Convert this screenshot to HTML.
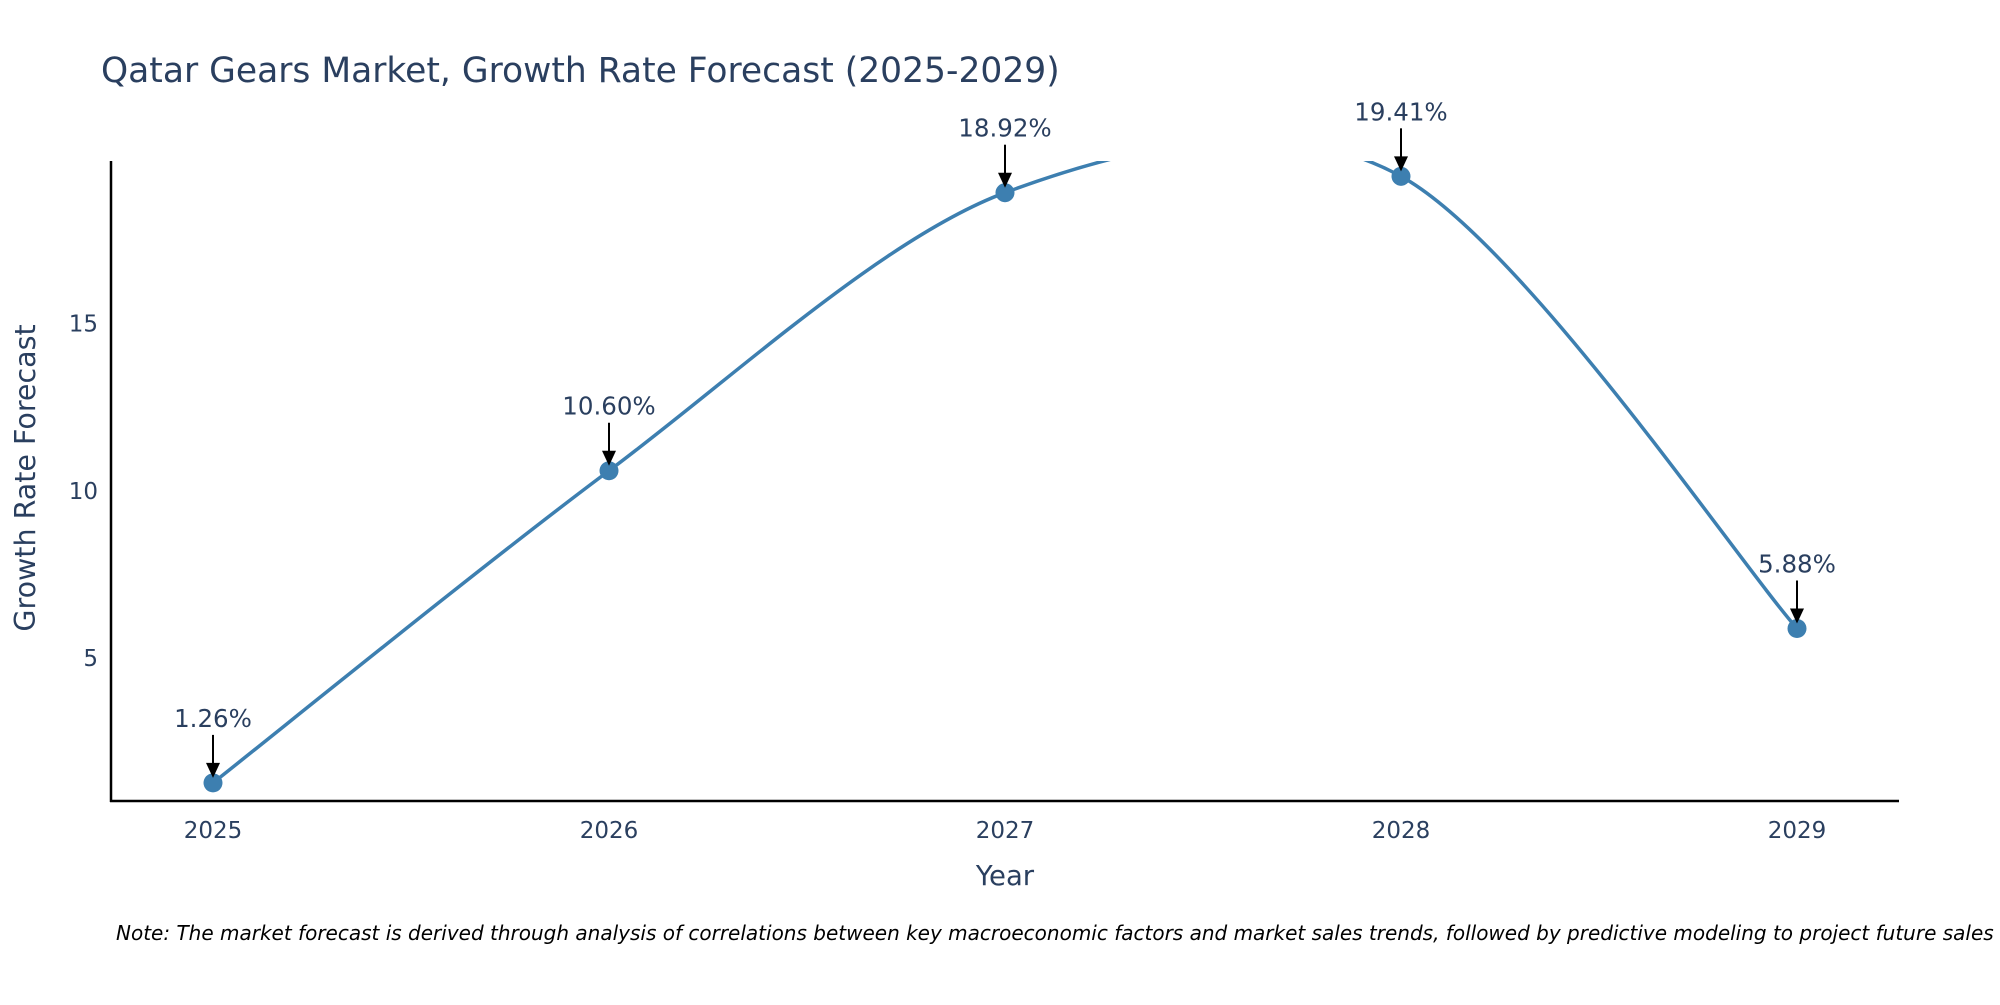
<!DOCTYPE html>
<html><head><meta charset="utf-8"><style>
body{margin:0;background:#fff;font-family:"Liberation Sans","DejaVu Sans",sans-serif}
svg text{font-family:"DejaVu Sans","Liberation Sans",sans-serif;fill:#2a3f5f}
</style></head><body>
<svg id="chart" width="2000" height="1000" xmlns="http://www.w3.org/2000/svg">
<defs>
<clipPath id="plotclip"><rect x="111" y="161" width="1788" height="640"/></clipPath>
</defs>
<text x="101" y="82" font-size="34.5">Qatar Gears Market, Growth Rate Forecast (2025-2029)</text>
<g id="yticks"></g><g id="xticks"></g>
<g id="series" clip-path="url(#plotclip)"></g>
<g id="points"></g><g id="annots"></g>
<line x1="111" y1="161" x2="111" y2="802" stroke="#000" stroke-width="2.5"/>
<line x1="110" y1="801" x2="1899" y2="801" stroke="#000" stroke-width="2.5"/>
<text x="1005" y="885" font-size="27.5" text-anchor="middle">Year</text>
<text transform="translate(35,478) rotate(-90)" font-size="28.5" text-anchor="middle">Growth Rate Forecast</text>
<text x="116" y="940" font-size="20" font-style="italic" style="fill:#000">Note: The market forecast is derived through analysis of correlations between key macroeconomic factors and market sales trends, followed by predictive modeling to project future sales</text>
</svg>
<script>
const years = ["2025","2026","2027","2028","2029"];
const growth = [1.26, 10.60, 18.92, 19.41, 5.88];
const labels = ["1.26%","10.60%","18.92%","19.41%","5.88%"];
const yTickValues = [5, 10, 15];

const NS = "http://www.w3.org/2000/svg";
const X0 = 213, X1 = 1797;
const xs = i => X0 + i * (X1 - X0) / (years.length - 1);
const ys = v => 825 - v * 33.42;
function mk(tag, attrs, parent){const e=document.createElementNS(NS,tag);for(const k in attrs)e.setAttribute(k,attrs[k]);parent.appendChild(e);return e;}

const yt = document.getElementById('yticks');
yTickValues.forEach(v=>{
  const t = mk('text',{x:98,y:ys(v)+8,'font-size':23,'text-anchor':'end'},yt);
  
  
  t.textContent = v;
});
const xt = document.getElementById('xticks');
years.forEach((y,i)=>{
  const t = mk('text',{x:xs(i),y:838,'font-size':23,'text-anchor':'middle'},xt);
  
  
  t.textContent = y;
});

const P = growth.map((v,i)=>[xs(i), ys(v)]);
let d = `M${P[0][0]},${P[0][1]}`;
for (let i=0;i<P.length-1;i++){
  const p0=P[Math.max(i-1,0)], p1=P[i], p2=P[i+1], p3=P[Math.min(i+2,P.length-1)];
  const k=1/6.5;
  const c1=[p1[0]+(p2[0]-p0[0])*k, p1[1]+(p2[1]-p0[1])*k];
  const c2=[p2[0]-(p3[0]-p1[0])*k, p2[1]-(p3[1]-p1[1])*k];
  d += ` C${c1[0]},${c1[1]} ${c2[0]},${c2[1]} ${p2[0]},${p2[1]}`;
}
const line = mk('path',{d:d,fill:'none',stroke:'#3d7fb0','stroke-width':3.5},document.getElementById('series'));



const pts = document.getElementById('points'), an = document.getElementById('annots');
growth.forEach((v,i)=>{
  const x = xs(i), y = ys(v);
  const c = mk('circle',{cx:x,cy:y,r:9.5,fill:'#3d7fb0'},pts);
  
  
  const a = mk('line',{x1:x,y1:y-48,x2:x,y2:y-18,stroke:'#000','stroke-width':2},an);
  
  
  const h = mk('polygon',{points:`${x-7},${y-20} ${x+7},${y-20} ${x},${y-5}`,fill:'#000'},an);
  
  
  const t = mk('text',{x:x,y:y-56,'font-size':24.5,'text-anchor':'middle'},an);
  
  
  t.textContent = labels[i];
});
</script>
</body></html>
